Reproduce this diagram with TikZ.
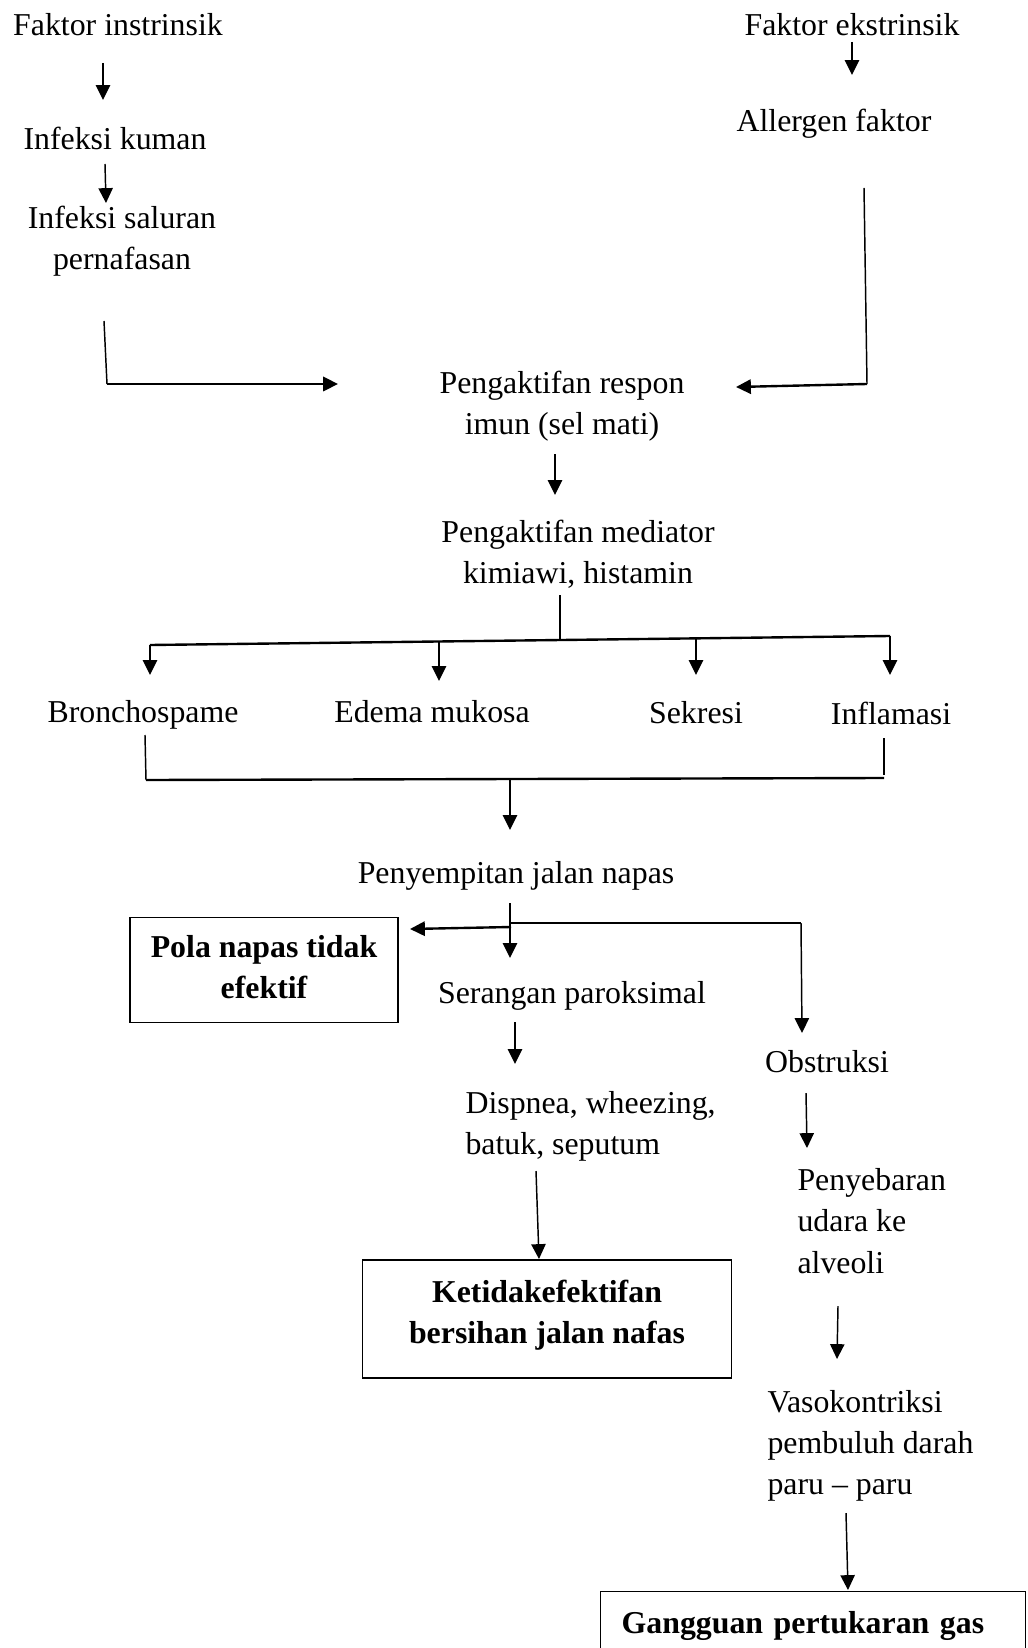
\documentclass[tikz,border=0pt]{standalone}
\usepackage{fontspec}
\setmainfont{Liberation Serif}
\usetikzlibrary{arrows.meta, positioning}

\begin{document}
\begin{tikzpicture}[x=0.377pt, y=-0.377pt,
    every node/.style={inner sep=0pt, font=\fontsize{12}{15.5}\selectfont},
    arr/.style={-{Triangle[length=5.6pt, width=5.4pt]}, line width=0.55pt},
    link/.style={line width=0.55pt},
    bar/.style={line width=0.9pt},
    result/.style={draw, line width=0.5pt, align=center,
      font=\bfseries\fontsize{12}{15.5}\selectfont}]
   \useasboundingbox (0,0) rectangle (1027,1648);
   \clip (0,0) rectangle (1027,1648);
   % causes
   \node (fi) at (118,25) {Faktor instrinsik};
   \node (fe) at (852,25) {Faktor ekstrinsik};
   \node (ik) at (115,138) {Infeksi kuman};
   \node[align=center] (isp) at (122,241) {Infeksi saluran\\pernafasan};
   \node (af) at (834,124) {Allergen faktor};
   \node[align=center] (pri) at (562,406) {Pengaktifan respon\\imun (sel mati)};
   \node[align=center] (pmk) at (578,554) {Pengaktifan mediator\\kimiawi, histamin};
   % reactions
   \node (br)  at (143,715) {Bronchospame};
   \node (em)  at (432,712) {Edema mukosa};
   \node (sk)  at (696,713) {Sekresi};
   \node (inf) at (891,713) {Inflamasi};
   \node (pjn) at (516,876) {Penyempitan jalan napas};
   % effects
   \node[result, minimum width=101pt, minimum height=39.6pt] (pnt) at (264,970) {Pola napas tidak\\efektif\rule[-2.4pt]{0pt}{0pt}};
   \node (sp) at (572,996) {Serangan paroksimal};
   \node (ob) at (827,1062) {Obstruksi};
   \node[align=left, anchor=west] (dws) at (465,1126) {Dispnea, wheezing,\\batuk, seputum};
   \node[result, minimum width=139.1pt, minimum height=44.5pt] (kbj) at (547,1319) {Ketidakefektifan\\bersihan jalan nafas\rule[-5.4pt]{0pt}{0pt}};
   \node[align=left, anchor=west] (pua) at (797,1221) {Penyebaran\\udara ke\\alveoli};
   \node[align=left, anchor=west] (vpd) at (767,1446) {Vasokontriksi\\pembuluh darah\\paru \textendash{} paru};
   \node[result, align=left, anchor=north west, text width=144.4pt,
     inner xsep=7.9pt, inner ysep=7.6pt] (gpg) at (600,1591) {Gangguan pertukaran gas};

   % free ends of the connectors
   \coordinate (fi-out) at (103,63);    \coordinate (ik-in) at (103,100);
   \coordinate (ik-out) at (105,164);   \coordinate (isp-in) at (106,203);
   \coordinate (fe-out) at (852,42);    \coordinate (af-in) at (852,75);
   \coordinate (isp-out) at (104,321);  \coordinate (l-bend) at (107,384);
   \coordinate (pri-left) at (338,384);
   \coordinate (af-out) at (864,188);   \coordinate (r-bend) at (867,384);
   \coordinate (pri-right) at (736,387);
   \coordinate (pri-out) at (555,454);  \coordinate (pmk-in) at (555,495);
   \coordinate (pmk-out) at (560,595);  \coordinate (split) at (560,640);
   \coordinate (bar-l) at (150,645);    \coordinate (bar-r) at (890,636);
   \coordinate (br-out) at (145,735);   \coordinate (inf-out) at (884,738);
   \coordinate (join-l) at (146,780);   \coordinate (join-r) at (884,778);
   \coordinate (join) at (510,780);     \coordinate (pjn-in) at (510,830);
   \coordinate (pjn-out) at (510,903);  \coordinate (sp-in) at (510,958);
   \coordinate (fork) at (511,927);     \coordinate (pnt-in) at (410,929);
   \coordinate (fork-r) at (801,923);   \coordinate (ob-in) at (802,1033);
   \coordinate (sp-out) at (515,1022);  \coordinate (dws-in) at (515,1064);
   \coordinate (dws-out) at (536,1171); \coordinate (kbj-in) at (539,1259);
   \coordinate (ob-out) at (806,1093);  \coordinate (pua-in) at (807,1148);
   \coordinate (pua-out) at (838,1306); \coordinate (vpd-in) at (837,1359);
   \coordinate (vpd-out) at (846,1513); \coordinate (gpg-in) at (848,1590);

   \draw[arr] (fi-out) -- (ik-in);
   \draw[arr] (ik-out) -- (isp-in);
   \draw[arr] (fe-out) -- (af-in);
   \draw[link] (isp-out) -- (l-bend);
   \draw[arr, bar] (l-bend) -- (pri-left);
   \draw[link] (af-out) -- (r-bend);
   \draw[arr, bar] (r-bend) -- (pri-right);
   \draw[arr] (pri-out) -- (pmk-in);
   \draw[link] (pmk-out) -- (split);
   \draw[bar] (bar-l) -- (bar-r);
   \foreach \x/\y/\e in {150/645/675, 439/641/681, 696/638/675, 890/636/675}
     \draw[arr] (\x,\y) -- (\x,\e);
   \draw[link] (br-out) -- (join-l);
   \draw[link] (inf-out) -- (884,775);
   \draw[bar] (join-l) -- (join-r);
   \draw[arr] (join) -- (pjn-in);
   \draw[arr] (pjn-out) -- (sp-in);
   \draw[arr, bar] (fork) -- (pnt-in);
   \draw[bar] (pjn-out |- fork-r) -- (fork-r);
   \draw[arr] (fork-r) -- (ob-in);
   \draw[arr] (sp-out) -- (dws-in);
   \draw[arr] (dws-out) -- (kbj-in);
   \draw[arr] (ob-out) -- (pua-in);
   \draw[arr] (pua-out) -- (vpd-in);
   \draw[arr] (vpd-out) -- (gpg-in);
\end{tikzpicture}
\end{document}
